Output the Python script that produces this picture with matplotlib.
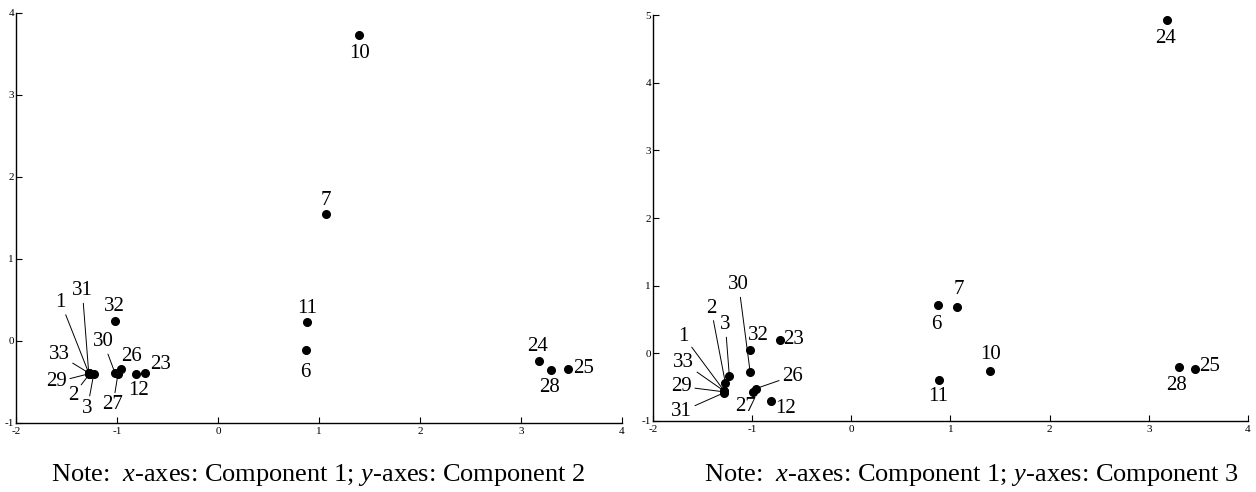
import matplotlib
matplotlib.use("Agg")
import matplotlib.pyplot as plt

plt.rcParams["font.family"] = ["Liberation Serif", "DejaVu Serif"]
plt.rcParams["mathtext.fontset"] = "custom"
plt.rcParams["mathtext.rm"] = "Liberation Serif"
plt.rcParams["mathtext.it"] = "Liberation Serif:italic"
plt.rcParams["axes.unicode_minus"] = False

# --- data: object ids and component scores ---
ids = [1, 2, 3, 6, 7, 10, 11, 12, 23, 24, 25, 26, 27, 28, 29, 30, 31, 32, 33]
comp1 = [-1.28, -1.27, -1.23, 0.87, 1.07, 1.40, 0.88, -0.81, -0.72, 3.18, 3.47,
         -0.96, -0.99, 3.30, -1.28, -1.02, -1.28, -1.02, -1.28]
comp2 = [-0.39, -0.40, -0.40, -0.11, 1.55, 3.73, 0.23, -0.40, -0.39, -0.24, -0.34,
         -0.34, -0.40, -0.35, -0.40, -0.39, -0.39, 0.25, -0.39]
comp3 = [-0.56, -0.44, -0.34, 0.71, 0.69, -0.26, -0.39, -0.70, 0.20, 4.93, -0.23,
         -0.52, -0.57, -0.20, -0.57, -0.28, -0.58, 0.05, -0.56]

# label placements (text centres) and which labels get a leader line
labels_c2 = {1: (-1.556, 0.47), 31: (-1.343, 0.61), 32: (-1.024, 0.42),
             33: (-1.57, -0.17), 30: (-1.135, -0.01), 26: (-0.855, -0.185),
             23: (-0.569, -0.29), 29: (-1.596, -0.50), 2: (-1.434, -0.66),
             3: (-1.293, -0.82), 27: (-1.04, -0.78), 12: (-0.788, -0.60),
             10: (1.40, 3.50), 7: (1.07, 1.71), 11: (0.88, 0.40),
             6: (0.86, -0.38), 24: (3.16, -0.07), 28: (3.28, -0.57),
             25: (3.62, -0.34)}
lines_c2 = [1, 31, 33, 30, 29, 2, 3, 27]

labels_c3 = {30: (-1.135, 1.01), 2: (-1.414, 0.665), 3: (-1.27, 0.42),
             1: (-1.69, 0.25), 33: (-1.69, -0.14), 29: (-1.71, -0.49),
             31: (-1.71, -0.86), 32: (-0.933, 0.26), 23: (-0.58, 0.20),
             26: (-0.596, -0.335), 27: (-1.067, -0.79), 12: (-0.66, -0.81),
             24: (3.17, 4.66), 6: (0.86, 0.42), 7: (1.08, 0.95),
             10: (1.40, -0.015), 11: (0.88, -0.64), 28: (3.28, -0.48),
             25: (3.61, -0.20)}
lines_c3 = [30, 2, 3, 1, 33, 29, 31, 26]

xticks = [-2, -1, 0, 1, 2, 3, 4]
yticks_c2 = [-1, 0, 1, 2, 3, 4]
yticks_c3 = [-1, 0, 1, 2, 3, 4, 5]

fig = plt.figure(figsize=(12.56, 4.92), dpi=100)
ax1 = fig.add_axes([16 / 1256, 69 / 492, 606 / 1256, 410 / 492])
ax2 = fig.add_axes([653 / 1256, 71 / 492, 595 / 1256, 406 / 492])


def draw_panel(ax, ys, labels, lines, yticks):
    ax.plot(comp1, ys, "o", color="black", markersize=5.5, zorder=3)
    for i, pid in enumerate(ids):
        tx, ty = labels[pid]
        if pid in lines:
            ax.annotate(str(pid), xy=(comp1[i], ys[i]), xytext=(tx, ty),
                        ha="center", va="center", fontsize=15,
                        arrowprops=dict(arrowstyle="-", lw=0.7, color="black",
                                        shrinkA=0, shrinkB=1))
        else:
            ax.text(tx, ty, str(pid), ha="center", va="center", fontsize=15)
    ax.set_xlim(-2, 4)
    ax.set_ylim(yticks[0], yticks[-1])
    ax.set_xticks(xticks)
    ax.set_yticks(yticks)
    ax.spines["top"].set_visible(False)
    ax.spines["right"].set_visible(False)
    ax.spines["left"].set_linewidth(1.0)
    ax.spines["bottom"].set_linewidth(1.0)
    ax.tick_params(direction="in", length=4.3, width=0.8, labelsize=8)
    ax.tick_params(axis="y", pad=1.5)
    ax.tick_params(axis="x", pad=3)


draw_panel(ax1, comp2, labels_c2, lines_c2, yticks_c2)
draw_panel(ax2, comp3, labels_c3, lines_c3, yticks_c3)

fig.text(318 / 1256, 17 / 492, "Note:  $\\mathit{x}$-axes: Component 1; $\\mathit{y}$-axes: Component 2",
         ha="center", va="center", fontsize=19)
fig.text(971 / 1256, 17 / 492, "Note:  $\\mathit{x}$-axes: Component 1; $\\mathit{y}$-axes: Component 3",
         ha="center", va="center", fontsize=19)

fig.savefig("out.png", dpi=100)
